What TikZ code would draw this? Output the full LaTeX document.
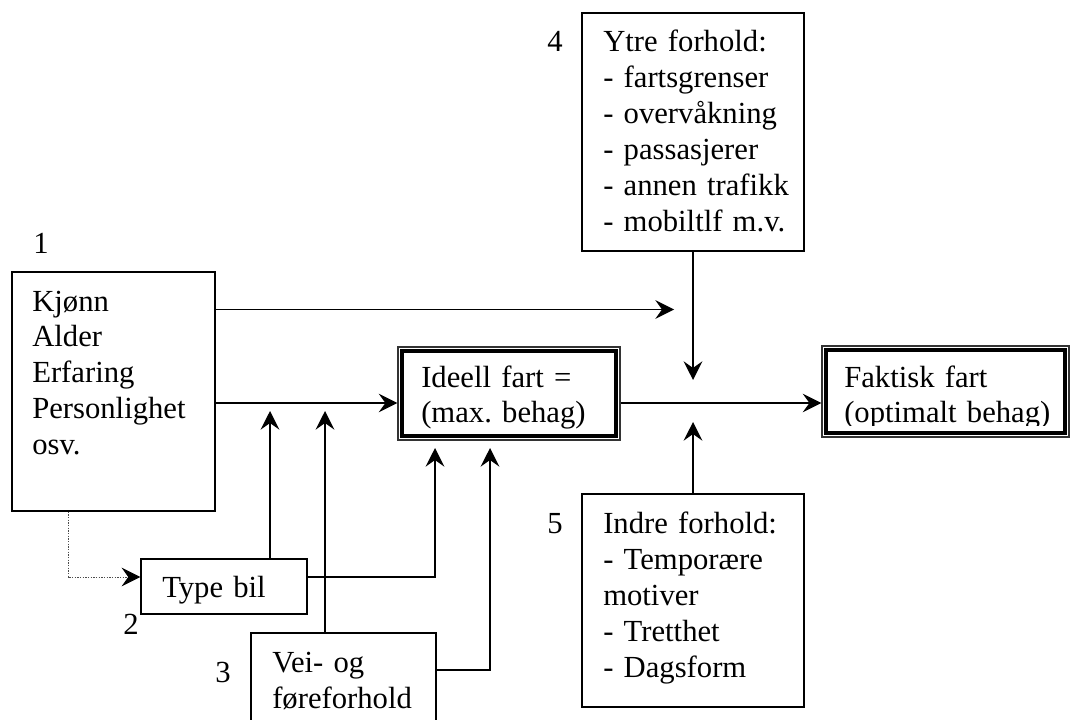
\documentclass[tikz,border=0pt]{standalone}
\usepackage{fontspec}
\setmainfont{Liberation Serif}
\usetikzlibrary{arrows.meta}
\frenchspacing
\begin{document}
\begin{tikzpicture}[x=0.75pt,y=-0.75pt,
  font=\fontsize{23}{27}\selectfont\frenchspacing,
  box/.style={draw, line width=1.1pt, inner sep=0, rectangle},
  dbl/.style={draw=black!80, line width=0.9pt, inner sep=0, rectangle},
  thickin/.style={line width=2.6pt},
  txt/.style={anchor=base west, inner sep=0, align=left, text width=230pt},
  lbl/.style={anchor=base west, inner sep=0},
  tip/.style={-{Stealth[length=14pt,width=14pt,inset=5pt,color=black]}},
  conn/.style={line width=1.1pt, tip},
  dots/.style={draw=black!70, line width=0.7pt, dash pattern=on 1pt off 1pt, tip},
  ]
\useasboundingbox (0,0) rectangle (1071,720);

% boxes
\node[box, minimum width=152.25pt, minimum height=179.25pt] (b1) at (113.5,391.5) {};
\node[box, minimum width=166.5pt, minimum height=178.5pt] (b4) at (693,132) {};
\node[box, minimum width=166.5pt, minimum height=159.75pt] (b5) at (693,600.5) {};
\node[box, minimum width=124.5pt, minimum height=41.25pt] (typebil) at (224,586.5) {};
\node[box, minimum width=138.75pt, minimum height=76.5pt] (vei) at (343.5,684) {};
\node[dbl, minimum width=166.5pt, minimum height=69.75pt] (ideell) at (509,393.5) {};
\node[dbl, minimum width=185.25pt, minimum height=68.25pt] (faktisk) at (945.5,391.5) {};
\draw[thickin] ([shift={(4.5,4.5)}]ideell.north west) rectangle ([shift={(-4.5,-4.5)}]ideell.south east);
\draw[thickin] ([shift={(4.5,4.5)}]faktisk.north west) rectangle ([shift={(-4.5,-4.5)}]faktisk.south east);

% texts
\node[txt] (t1) at (32,311) {Kjønn\\Alder\\Erfaring\\Personlighet\\osv.};
\node[txt] (t4) at (603,52) {Ytre forhold:\\- fartsgrenser\\- overvåkning\\- passasjerer\\- annen trafikk\\- mobiltlf m.v.};
\node[txt] (t5) at (603,533) {Indre forhold:\\- Temporære\\motiver\\- Tretthet\\- Dagsform};
\node[txt] (t2) at (162,597) {Type bil};
\node[txt] (t3) at (272,672) {Vei- og\\føreforhold};
\coordinate (cI) at (0,428);
\begin{scope}
\clip (ideell.north west) rectangle (ideell.east |- cI);
\node[txt] (tI) at (421,387) {Ideell fart =\\(max. behag)};
\end{scope}
\coordinate (cF) at (0,425);
\begin{scope}
\clip (faktisk.north west) rectangle (faktisk.east |- cF);
\node[txt] (tF) at (844,387) {Faktisk fart\\(optimalt behag)};
\end{scope}

% labels
\node[lbl] (l1) at (33,254) {1};
\node[lbl] (l2) at (123,634) {2};
\node[lbl] (l3) at (215,682) {3};
\node[lbl] (l4) at (547,52) {4};
\node[lbl] (l5) at (547,533) {5};

% connectors
\coordinate (my) at (0,403);
\coordinate (a1) at (674,309.5);
\draw[conn] (b1.east |- a1) -- (a1);
\draw[conn] (b1.east |- my) -- (ideell.west |- my);
\draw[conn] (ideell.east |- my) -- (faktisk.west |- my);
\coordinate (a4) at (693,380);
\draw[conn] (b4.south) -- (a4);
\coordinate (a5) at (693,422);
\draw[conn] (b5.north) -- (a5);
\coordinate (d) at (68,577);
\draw[dots] (b1.south -| d) -- (d) -- (typebil.west |- d);
\coordinate (tb) at (270,411);
\draw[conn] (typebil.north -| tb) -- (tb);
\coordinate (tbr) at (435,577);
\coordinate (tbt) at (435,448);
\draw[conn] (typebil.east |- tbr) -- (tbr) -- (tbt);
\coordinate (vt) at (325,411);
\draw[conn] (vei.north -| vt) -- (vt);
\coordinate (vr) at (490,670);
\coordinate (vrt) at (490,448);
\draw[conn] (vei.east |- vr) -- (vr) -- (vrt);
\end{tikzpicture}
\end{document}
